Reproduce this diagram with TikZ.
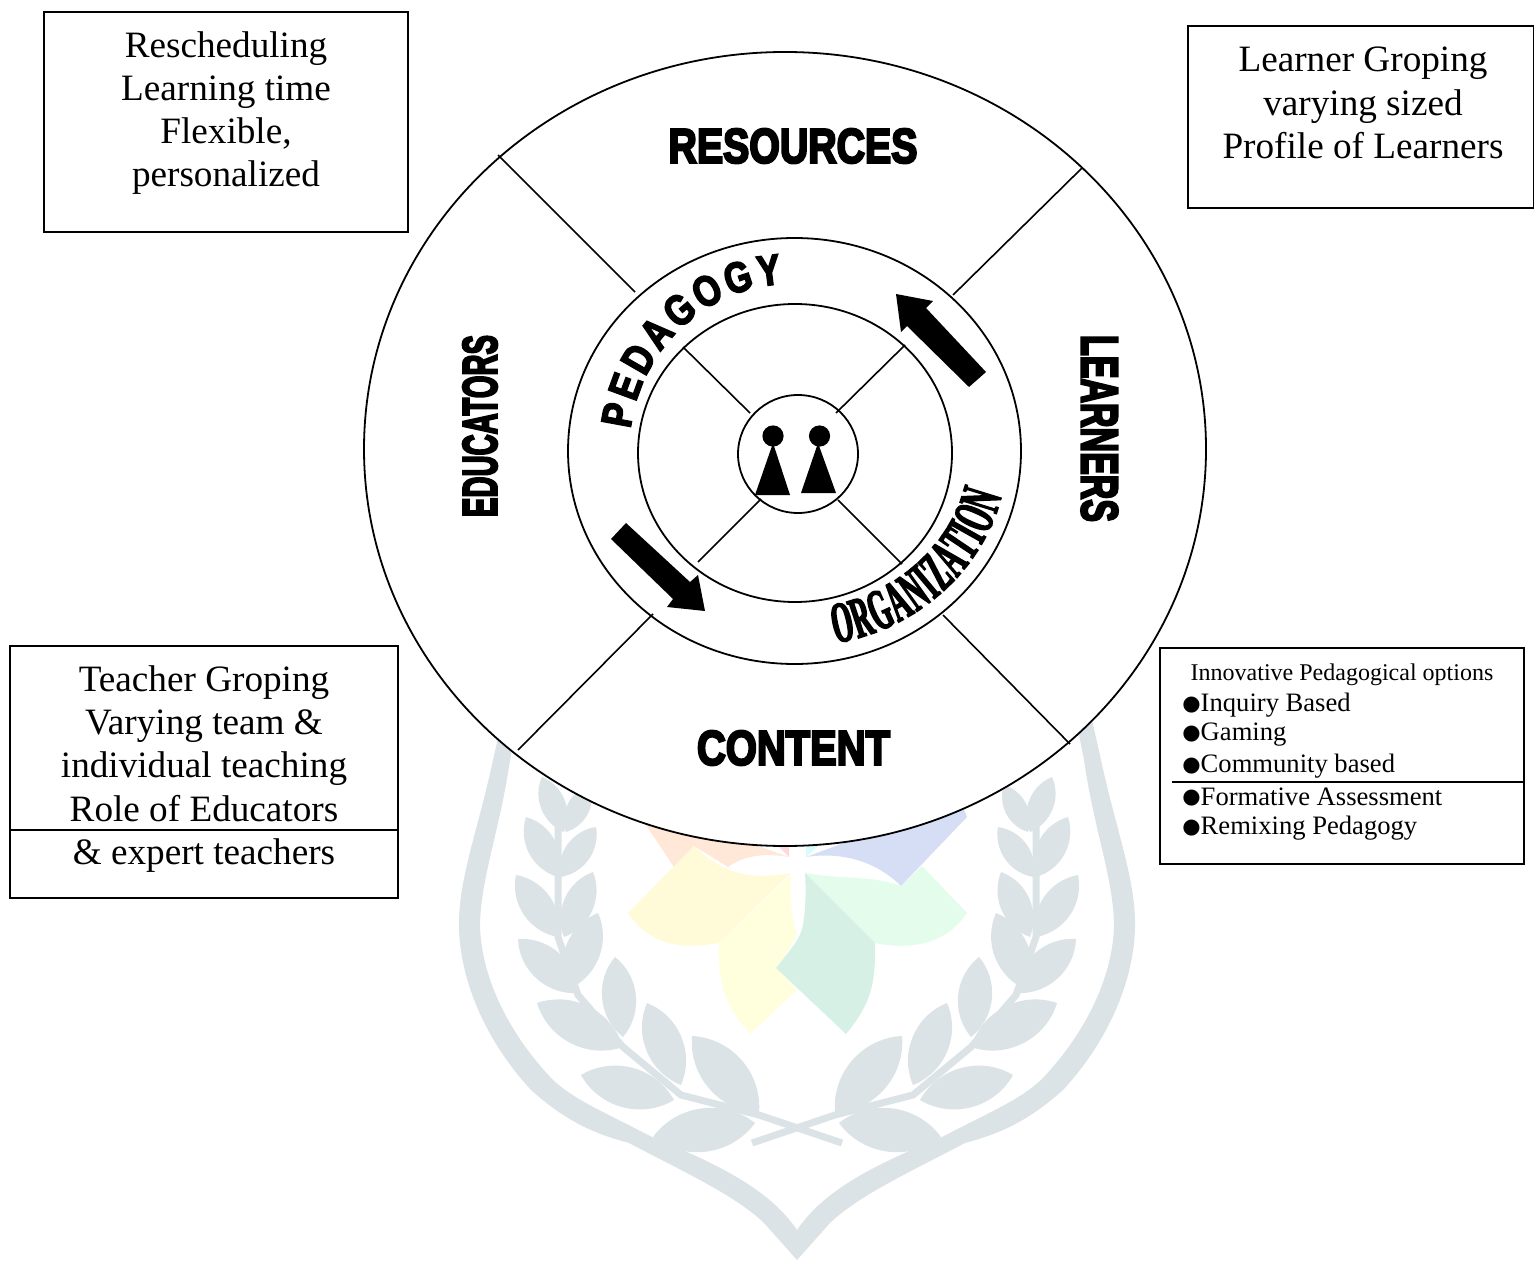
\documentclass[tikz,border=0pt]{standalone}
\usepackage{fontspec}
\setmainfont{Liberation Serif}
\newfontfamily\heavyfont[FakeBold=5]{Liberation Sans}
\newfontfamily\pedfont[FakeStretch=.8,FakeBold=3.5]{Liberation Sans}
\newfontfamily\orgfont[FakeStretch=.46,FakeBold=2.5]{Liberation Serif}
\newfontfamily\bulfont{DejaVu Sans}
\usetikzlibrary{shapes.geometric,decorations.text}
\definecolor{wm}{HTML}{DCE3E6}
\definecolor{fo}{HTML}{FFE8D8}
\definecolor{fb}{HTML}{D6DEF6}
\definecolor{fp}{HTML}{FFD8DC}
\definecolor{fc}{HTML}{D8FBFB}
\definecolor{fya}{HTML}{FFFBD8}
\definecolor{fyb}{HTML}{FFFFDD}
\definecolor{fg}{HTML}{E3FCEB}
\definecolor{fgb}{HTML}{D6F0E6}
\newcommand{\bul}{{\bulfont\fontsize{10.5}{10.5}\selectfont\raisebox{0.6pt}{●}}}
\newcommand{\bign}{\fontsize{18.6}{21.6}\selectfont}
\newcommand{\heavy}[3]{\resizebox{#1pt}{#2pt}{\heavyfont\bfseries #3}}
\newcommand{\shieldhalf}{%
  % band
  \fill[wm] (502,720) -- (493,760) .. controls (478,830) and (458,880) .. (459,927)
    .. controls (460,980) and (485,1040) .. (531,1090)
    .. controls (570,1125) and (600,1135) .. (629,1143)
    .. controls (680,1170) and (735,1195) .. (764,1223)
    -- (797,1260) -- (797,1230)
    .. controls (770,1190) and (720,1165) .. (652,1137)
    .. controls (600,1110) and (575,1100) .. (553,1080)
    .. controls (510,1035) and (482,980) .. (480,927)
    .. controls (480,880) and (500,830) .. (510,760) -- (518,720) -- cycle;
  % stem
  \draw[wm,line width=3.5pt] (558,800) -- (558,937) -- (578,995) -- (623,1047) -- (681,1095) -- (759,1115) -- (842,1143);
  % leaves
  \foreach \a/\b/\c/\d in {564/832/542/777,566/832/590/785,558/877/526/817,560/877/596/827,
    558/937/516/875,564/937/593/872,578/993/518/939,567/990/598/913,623/1047/537/1003,
    623/1037/615/957,674/1100/581/1075,681/1085/647/1003,755/1123/653/1137,759/1113/692/1036}
    {\fill[wm] (\a,\b) to[bend left=46] (\c,\d) to[bend left=46] (\a,\b) -- cycle;}
}
\begin{document}
\begin{tikzpicture}[x=0.5pt,y=-0.5pt,
  ring/.style={draw=black,line width=0.9pt,ellipse,inner sep=0pt,outer sep=0pt},
  box/.style={draw=black,line width=0.8pt,fill=white,inner sep=0pt,outer sep=0pt,anchor=north west},
  rule/.style={draw=black,line width=0.8pt},
  spoke/.style={draw=black,line width=0.8pt},
  label/.style={align=center,inner sep=0pt,font=\bign},
  item/.style={anchor=west,inner sep=0pt,font=\fontsize{13.3}{15}\selectfont},
  solid shape/.style={fill=black,draw=none},
  ]
\useasboundingbox (0,0) rectangle (1534,1261);
\fill[white] (0,0) rectangle (1534,1261);

% watermark
\shieldhalf
\begin{scope}[shift={(1594,0)},xscale=-1]\shieldhalf\end{scope}
% flower
\fill[fo] (629,800) -- (789,857) .. controls (765,853) and (745,855) .. (728,867) -- (694,846) -- (674,867) -- cycle;
\fill[fb] (960,800) -- (806,857) .. controls (830,853) and (870,855) .. (901,886) -- (967,817) -- cycle;
\fill[fp] (778,846) -- (789,846) -- (789,857) -- cycle;
\fill[fc] (806,846) -- (818,846) -- (806,857) -- cycle;
\fill[fya] (694,846) .. controls (725,875) and (750,880) .. (791,873) -- (719,943) .. controls (680,950) and (650,945) .. (628,913) -- cycle;
\fill[fyb] (791,875) .. controls (789,900) and (792,920) .. (797,933) .. controls (793,945) and (785,955) .. (777,968) -- (797,990) -- (750,1034) .. controls (725,1005) and (718,985) .. (719,943) -- cycle;
\fill[fg] (805,873) .. controls (845,880) and (870,875) .. (901,886) -- (922,866) -- (967,913) .. controls (945,945) and (910,950) .. (875,943) -- cycle;
\fill[fgb] (805,873) -- (875,943) .. controls (876,985) and (870,1005) .. (846,1034) -- (776,968) .. controls (790,950) and (800,940) .. (803,925) .. controls (806,905) and (806,890) .. (805,873) -- cycle;

% rings
\node[ring,fill=white,minimum width=421pt,minimum height=397pt] (outer) at (785,449) {};
\coordinate (o1a) at (498,155); \coordinate (o1b) at (635,292);
\coordinate (o2a) at (1082,168); \coordinate (o2b) at (953,295);
\coordinate (o3a) at (518,750); \coordinate (o3b) at (653,614);
\coordinate (o4a) at (1070,744); \coordinate (o4b) at (943,615);
\draw[spoke] (o1a) -- (o1b);
\draw[spoke] (o2a) -- (o2b);
\draw[spoke] (o3a) -- (o3b);
\draw[spoke] (o4a) -- (o4b);
\node[ring,minimum width=226.5pt,minimum height=213pt] (middle) at (794.5,451) {};
\node[ring,minimum width=157pt,minimum height=149pt] (inner) at (795,453) {};
\node[ring,minimum width=60pt,minimum height=59pt] (core) at (798,454) {};
\coordinate (i1a) at (683,347); \coordinate (i1b) at (750,413);
\coordinate (i2a) at (905,345); \coordinate (i2b) at (836,413);
\coordinate (i3a) at (698,562); \coordinate (i3b) at (761,499);
\coordinate (i4a) at (902,564); \coordinate (i4b) at (838,500);
\draw[spoke] (i1a) -- (i1b);
\draw[spoke] (i2a) -- (i2b);
\draw[spoke] (i3a) -- (i3b);
\draw[spoke] (i4a) -- (i4b);

% figures
\fill[solid shape] (773,436) circle[radius=5.3pt];
\fill[solid shape] (819.5,436) circle[radius=5.3pt];
\fill[solid shape] (773,443) -- (755,495) -- (790,495) -- cycle;
\fill[solid shape] (818,443) -- (801,493) -- (836,493) -- cycle;

% arrows
\fill[solid shape] (896,294) -- (933,301) -- (926,308) -- (986,372) -- (969,387) -- (907,326) -- (901,332) -- cycle;
\fill[solid shape] (705,611) -- (698,575) -- (690,582) -- (626,523) -- (611,539) -- (673,599) -- (667,607) -- cycle;

% word art
\node[inner sep=0pt] (resources) at (793,146) {\heavy{124.5}{17}{RESOURCES}};
\node[inner sep=0pt] (content) at (793.5,748) {\heavy{96.5}{17}{CONTENT}};
\node[inner sep=0pt,rotate=90] (educators) at (480,426) {\heavy{91}{17}{EDUCATORS}};
\node[inner sep=0pt,rotate=-90] (learners) at (1099.5,428.5) {\heavy{93.5}{18}{LEARNERS}};
\path[decorate,decoration={text along path,text align={fit to path},
   text={|\pedfont\bfseries\fontsize{21.5}{21.5}\selectfont|PEDAGOGY}}]
   (630.6,428.9) .. controls (639,352.4) and (703.5,288) .. (782,284);
\path[decorate,decoration={text along path,text align={fit to path},
   text={|\orgfont\bfseries\fontsize{29}{29}\selectfont|ORGANIZATION}}]
   (836,643) .. controls (915.6,629.5) and (982.5,571.4) .. (1001.6,495.6);

% boxes
\node[box,minimum width=182pt,minimum height=110pt] (b1) at (44,12) {};
\node[label] (t1) at (226,113) {Rescheduling\\Learning time\\Flexible,\\personalized};
\node[box,minimum width=173pt,minimum height=91pt] (b2) at (1188,26) {};
\node[label] (t2) at (1363,103) {Learner Groping\\varying sized\\Profile of Learners};
\node[box,minimum width=194pt,minimum height=126pt] (b3) at (10,646) {};
\coordinate (r3a) at (10,830); \coordinate (r3b) at (398,830);
\draw[rule] (r3a) -- (r3b);
\node[label] (t3) at (204,769) {Teacher Groping\\Varying team \&\\individual teaching\\Role of Educators\\\& expert teachers};
\node[box,minimum width=182pt,minimum height=108pt] (b4) at (1160,648) {};
\coordinate (r4a) at (1172,782); \coordinate (r4b) at (1524,782);
\draw[rule] (r4a) -- (r4b);
\node[inner sep=0pt,font=\fontsize{12}{13}\selectfont] (h4) at (1342,675) {Innovative Pedagogical options};
\node[item] (l1) at (1182,705) {\bul Inquiry Based};
\node[item] (l2) at (1182,735) {\bul Gaming};
\node[item] (l3) at (1182,766) {\bul Community based};
\node[item] (l4) at (1182,797) {\bul Formative Assessment};
\node[item] (l5) at (1182,828) {\bul Remixing Pedagogy};
\end{tikzpicture}
\end{document}
